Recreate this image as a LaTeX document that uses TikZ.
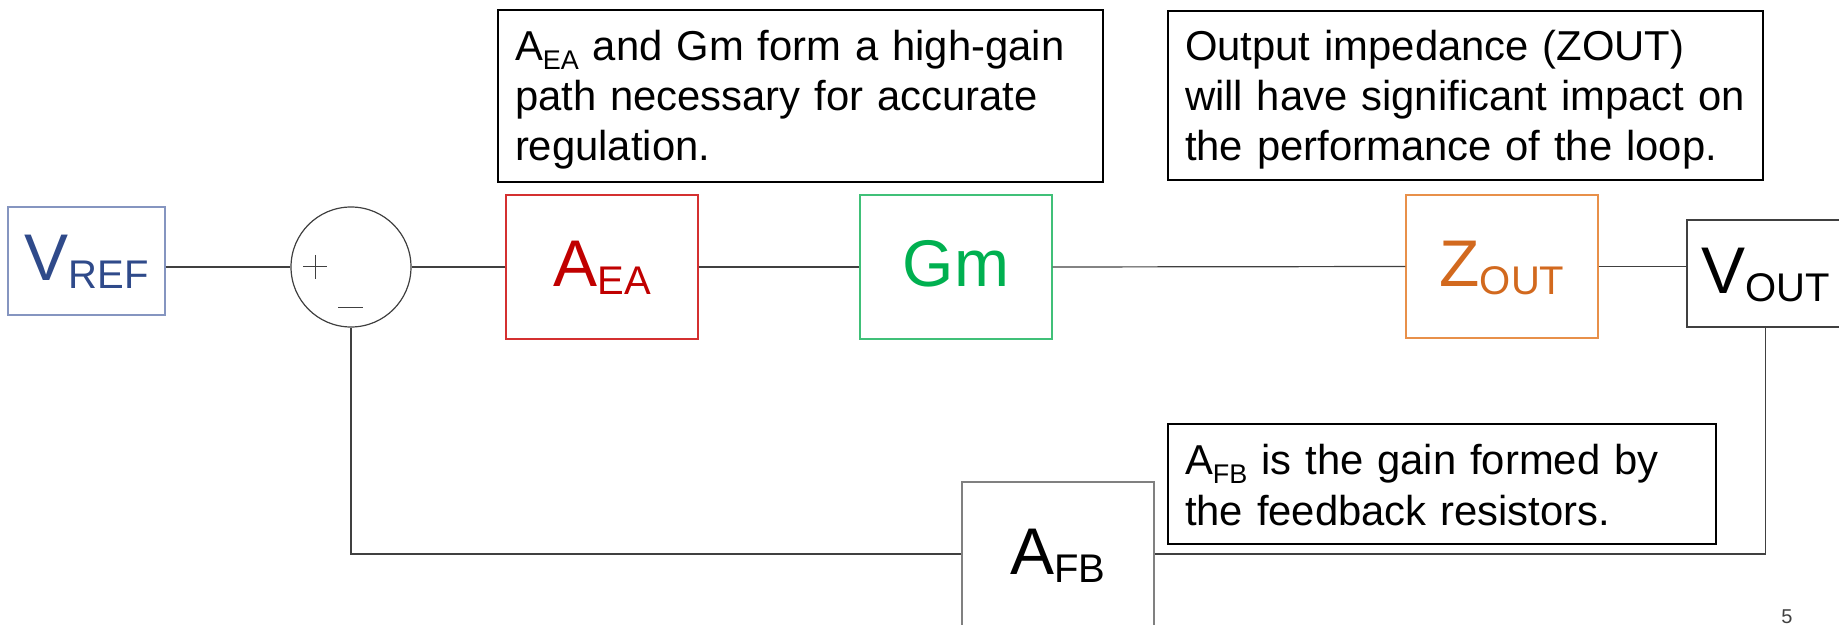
\documentclass[tikz,border=0pt]{standalone}
\usepackage{fontspec}
\setmainfont{Liberation Sans}
\usetikzlibrary{calc}
\definecolor{wirec}{HTML}{404040}
\definecolor{refc}{HTML}{2F4A8A}
\definecolor{refb}{HTML}{8595C0}
\definecolor{eac}{HTML}{C00000}
\definecolor{eab}{HTML}{D43030}
\definecolor{gmc}{HTML}{00B050}
\definecolor{gmb}{HTML}{40C078}
\definecolor{zoc}{HTML}{D2691E}
\definecolor{zob}{HTML}{E8904A}
\definecolor{grayb}{HTML}{808080}
\newcommand{\bsub}[1]{\raisebox{-4pt}{\fontsize{20}{20}\selectfont #1}}
\newcommand{\nsub}[1]{\raisebox{-4.5pt}{\fontsize{13.5}{13.5}\selectfont #1}}
\begin{document}
\begin{tikzpicture}[x=0.5pt,y=-0.5pt,
  block/.style={draw, rectangle, line width=0.6pt, minimum width=96pt, minimum height=72pt,
    inner sep=0pt, text height=24pt, text depth=4pt, font=\fontsize{33}{33}\selectfont},
  note/.style={draw=black, line width=1pt, rectangle, anchor=north west, inner ysep=0pt,
    inner xsep=8.5pt, align=left, font=\fontsize{20.9}{25}\selectfont},
  wire/.style={draw=wirec, line width=0.6pt},
  sign/.style={draw=wirec, line width=0.5pt}
]
\useasboundingbox (0,0) rectangle (1839,625);

% blocks
\node[block, draw=refb, text=refc, minimum width=78.5pt, minimum height=54pt] (vref) at (86.5,261) {V\bsub{REF}};
\node[draw=wirec, line width=0.6pt, circle, minimum size=60pt, inner sep=0pt] (sum) at (351,267) {};
\node[block, draw=eab, text=eac] (aea) at (602,267) {A\bsub{EA}};
\node[block, draw=gmb, text=gmc] (gm) at (956,267) {Gm};
\node[block, draw=zob, text=zoc, minimum height=71.5pt] (zout) at (1502,266.5) {Z\bsub{OUT}};
\node[block, draw=wirec, text=black, minimum width=78.5pt, minimum height=53.5pt] (vout) at (1765.5,273.5) {V\bsub{OUT}};
\node[block, draw=grayb, text=black] (afb) at (1058,554) {A\bsub{FB}};

% signs in the summing junction
\draw[sign] ($(sum.center)+(-48,0)$) -- ($(sum.center)+(-24,0)$);
\draw[sign] ($(sum.center)+(-36,-12)$) -- ($(sum.center)+(-36,12)$);
\draw[sign] ($(sum.center)+(-13,41)$) -- ($(sum.center)+(12,41)$);

% connectors
\draw[wire] (vref.east |- sum.west) -- (sum.west);
\draw[wire] (sum.east) -- (aea.west);
\draw[wire] (aea.east) -- (gm.west);
\draw[wire] (gm.east) -- (zout.west);
\draw[wire] (zout.east) -- (vout.west |- zout.east);
\draw[wire] (vout.south) |- (afb.east);
\draw[wire] (afb.west) -| (sum.south);

% notes
\node[note, minimum width=302.5pt, text width=285.5pt, text height=25.25pt, text depth=60.75pt] (n1) at (497,9.5)
  {\mbox{A\nsub{EA} and Gm form a high-gain}\\ \mbox{path necessary for accurate}\\ \mbox{regulation.}};
\node[note, minimum width=297.5pt, text width=280.5pt, text height=25pt, text depth=59.5pt] (n2) at (1167,10)
  {\mbox{Output impedance (ZOUT)}\\ \mbox{will have significant impact on}\\ \mbox{the performance of the loop.}};
\node[note, minimum width=274pt, text width=257pt, text height=25pt, text depth=35pt,
  font=\fontsize{20.9}{25.5}\selectfont] (n3) at (1167,423)
  {\mbox{A\nsub{FB} is the gain formed by}\\ \mbox{the feedback resistors.}};

% page number
\node[anchor=base, inner sep=0pt, text=wirec, font=\fontsize{10}{10}\selectfont] (pnum) at (1787,623) {5};
\end{tikzpicture}
\end{document}
